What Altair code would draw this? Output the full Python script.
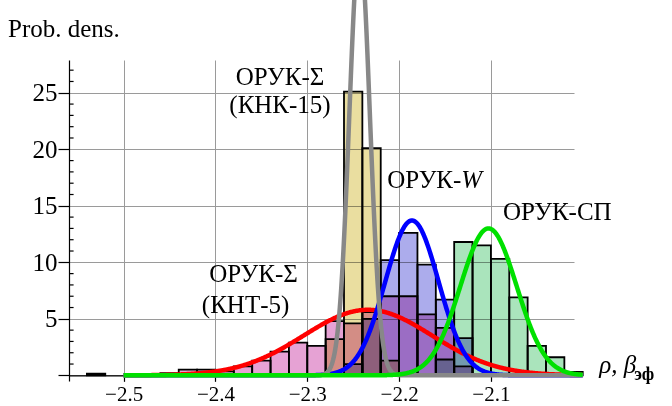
import altair as alt
import pandas as pd

FONT = "Liberation Serif"
BIN_W = 0.02

# ---- histogram data: left edges of 0.02-wide bins and their heights (prob. density)
knt5_left = [-2.54, -2.46, -2.44, -2.42, -2.40, -2.38, -2.36, -2.34, -2.32, -2.30,
             -2.28, -2.26, -2.24, -2.22, -2.20, -2.18, -2.16, -2.14]
knt5_h = [0.15, 0.2, 0.5, 0.5, 0.35, 0.8, 1.3, 2.1, 2.9, 2.6,
          4.8, 4.6, 5.6, 7.0, 7.0, 5.4, 4.2, 0.8]

knk15_left = [-2.28, -2.26, -2.24, -2.22]
knk15_h = [3.2, 25.1, 20.1, 1.3]

w_left = [-2.26, -2.24, -2.22, -2.20, -2.18, -2.16, -2.14]
w_h = [1.0, 5.0, 10.2, 12.6, 9.8, 6.7, 3.3]

sp_left = [-2.16, -2.14, -2.12, -2.10, -2.08, -2.06, -2.04, -2.02]
sp_h = [1.4, 11.8, 11.5, 10.3, 6.9, 2.6, 1.6, 0.3]

# ---- fitted normal curves (drawn in this order)
curve_names = ["КНТ-5", "W", "КНК-15", "СП"]
curve_means = [-2.234, -2.186, -2.243, -2.1026]
curve_sds = [0.070, 0.029, 0.0112, 0.0307]
curve_peaks = [5.8, 13.7, 38.0, 13.0]
curve_colors = ["#ff0000", "#0000ff", "#888888", "#00e000"]

hist_names = ["КНТ-5", "КНК-15", "W", "СП"]
hist_colors = ["#e6a2d4", "#eadea0", "#acacec", "#aae4bc"]

X_DOMAIN = [-2.5595, -2.0095]
Y_DOMAIN = [-0.5, 27.9]
x_ticks = [-2.5, -2.4, -2.3, -2.2, -2.1]
y_ticks = [0, 5, 10, 15, 20, 25]
y_minor = [v for v in range(1, 28) if v % 5 != 0]

rows = []
for name, lefts, hs in [("КНТ-5", knt5_left, knt5_h), ("КНК-15", knk15_left, knk15_h),
                        ("W", w_left, w_h), ("СП", sp_left, sp_h)]:
    for l, h in zip(lefts, hs):
        rows.append({"series": name, "x0": l, "x1": l + BIN_W, "h": h, "base": 0.0})
bars_df = pd.DataFrame(rows)

xs = alt.Scale(domain=X_DOMAIN, nice=False, zero=False)
ys = alt.Scale(domain=Y_DOMAIN, nice=False, zero=False)

x_axis = alt.Axis(values=x_ticks, format=".1f", title=None, grid=True,
                  gridColor="#9a9a9a", gridWidth=1, domainColor="black", domainWidth=1.2,
                  tickColor="black", tickSize=6, tickWidth=1.2, labelFont=FONT,
                  labelFontSize=21, labelColor="black", labelPadding=2, offset=-5.7,
                  labelFlush=False, labelOverlap=False)
y_axis = alt.Axis(values=y_ticks, labelExpr="datum.value == 0 ? '' : datum.label",
                  title="Prob. dens.", titleAngle=0, titleAlign="left",
                  titleBaseline="alphabetic", titleX=-61.5, titleY=-24, titleFont=FONT,
                  titleFontSize=25, titleFontWeight="normal", titleColor="black",
                  grid=True, gridColor="#9a9a9a", gridWidth=1, domainColor="black",
                  domainWidth=1.2, tickColor="black", tickSize=11, tickWidth=1.2,
                  labelFont=FONT, labelFontSize=25, labelColor="black", labelPadding=1,
                  labelBaseline="middle", labelFlush=False, labelOverlap=False)

bars = alt.Chart(bars_df).mark_rect(stroke="black", strokeWidth=1.8, blend="multiply").encode(
    x=alt.X("x0:Q", scale=xs, axis=x_axis),
    x2="x1:Q",
    y=alt.Y("h:Q", scale=ys, axis=y_axis),
    y2="base:Q",
    color=alt.Color("series:N", scale=alt.Scale(domain=hist_names, range=hist_colors), legend=None),
)

minor_df = pd.DataFrame({"y": y_minor, "x0": X_DOMAIN[0], "x1": X_DOMAIN[0] + 0.005})
minor = alt.Chart(minor_df).mark_rule(color="black", strokeWidth=1.2).encode(
    x=alt.X("x0:Q", scale=xs, axis=x_axis), x2="x1:Q",
    y=alt.Y("y:Q", scale=ys, axis=y_axis))

curves = []
for name, m, s, p, c in zip(curve_names, curve_means, curve_sds, curve_peaks, curve_colors):
    ch = alt.Chart(alt.sequence(-2.5, -1.9995, 0.0005, as_="x")).transform_calculate(
        y=f"{p} * exp(-0.5 * pow((datum.x - ({m})) / {s}, 2))"
    ).mark_line(color=c, strokeWidth=4.5, clip=False, strokeJoin="round").encode(
        x=alt.X("x:Q", scale=xs, axis=x_axis),
        y=alt.Y("y:Q", scale=ys, axis=y_axis),
    )
    curves.append(ch)

# ---- annotation texts
lab_text = ["ОРУК-Σ", "(КНК-15)", "ОРУК-Σ", "(КНТ-5)", "ОРУК-СП"]
lab_x = [-2.3297, -2.3297, -2.3585, -2.3672, -2.0277]
lab_y = [25.69, 23.22, 8.28, 5.54, 13.76]
labels = alt.Chart(pd.DataFrame({"t": lab_text, "x": lab_x, "y": lab_y})).mark_text(
    font=FONT, fontSize=25, color="black", align="center", baseline="alphabetic", clip=False
).encode(x=alt.X("x:Q", scale=xs, axis=x_axis), y=alt.Y("y:Q", scale=ys, axis=y_axis), text="t:N")

w_df = pd.DataFrame({"t": ["ОРУК-"], "x": [-2.1322], "y": [16.59]})
w1 = alt.Chart(w_df).mark_text(font=FONT, fontSize=25, color="black", align="right",
                               baseline="alphabetic", clip=False).encode(
    x=alt.X("x:Q", scale=xs, axis=x_axis), y=alt.Y("y:Q", scale=ys, axis=y_axis), text="t:N")
w2_df = pd.DataFrame({"t": ["W"], "x": [-2.1322], "y": [16.59]})
w2 = alt.Chart(w2_df).mark_text(font=FONT, fontSize=25, fontStyle="italic", color="black",
                                align="left", baseline="alphabetic", clip=False).encode(
    x=alt.X("x:Q", scale=xs, axis=x_axis), y=alt.Y("y:Q", scale=ys, axis=y_axis), text="t:N")

ax1_df = pd.DataFrame({"t": ["ρ, β"], "x": [-1.982], "y": [0.24]})
ax1 = alt.Chart(ax1_df).mark_text(font=FONT, fontSize=25, fontStyle="italic", color="black",
                                  align="left", baseline="alphabetic", clip=False).encode(
    x=alt.X("x:Q", scale=xs, axis=x_axis), y=alt.Y("y:Q", scale=ys, axis=y_axis), text="t:N")
ax2_df = pd.DataFrame({"t": ["эф"], "x": [-1.944], "y": [-0.38]})
ax2 = alt.Chart(ax2_df).mark_text(font=FONT, fontSize=18, fontWeight="bold", color="black",
                                  align="left", baseline="alphabetic", clip=False).encode(
    x=alt.X("x:Q", scale=xs, axis=x_axis), y=alt.Y("y:Q", scale=ys, axis=y_axis), text="t:N")

chart = alt.layer(bars, minor, *curves, labels, w1, w2, ax1, ax2).properties(
    width=505, height=321,
    autosize=alt.AutoSizeParams(type="none"),
    padding={"left": 69, "top": 60, "right": 98, "bottom": 25},
    background="white",
).configure_view(strokeWidth=0)

chart.save("out.html", embed_options={"renderer": "svg", "actions": False})
